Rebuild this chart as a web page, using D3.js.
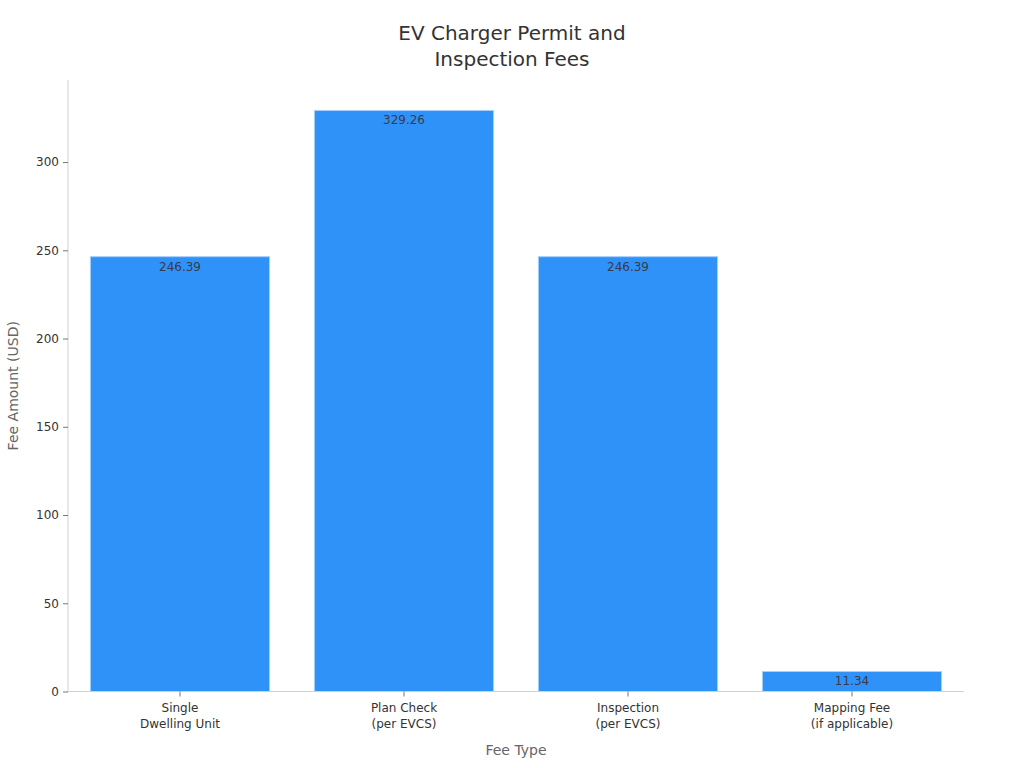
<!DOCTYPE html>
<html>
<head>
<meta charset="utf-8">
<script src="https://cdn.jsdelivr.net/npm/d3@7"></script>
<style>
  body { margin: 0; background: #fff; }
  text { font-family: "DejaVu Sans", sans-serif; }
</style>
</head>
<body>
<div class="canvas"></div>
<script>
const categories = [
  ["Single", "Dwelling Unit"],
  ["Plan Check", "(per EVCS)"],
  ["Inspection", "(per EVCS)"],
  ["Mapping Fee", "(if applicable)"]
];
const fees = [246.39, 329.26, 246.39, 11.34];
const yTicks = [0, 50, 100, 150, 200, 250, 300];

const margin = { top: 80, right: 60, bottom: 76.5, left: 68 };
const width = 1024, height = 768;
const graphWidth = width - margin.left - margin.right;
const graphHeight = height - margin.top - margin.bottom;

const svg = d3.select(".canvas")
  .append("svg")
  .attr("width", width)
  .attr("height", height);

const graph = svg.append("g")
  .attr("transform", `translate(${margin.left}, ${margin.top})`);

const keys = categories.map(c => c.join(" "));

// scales
const x = d3.scaleBand().domain(keys).range([0, graphWidth]).paddingInner(0.2).paddingOuter(0.1);
const y = d3.scaleLinear().domain([0, 346.5]).range([graphHeight, 0]);

// bars
graph.selectAll("rect.bar")
  .data(fees)
  .enter()
  .append("rect")
  .attr("class", "bar")
  .attr("x", (d, i) => x(keys[i]))
  .attr("y", d => y(d))
  .attr("width", x.bandwidth())
  .attr("height", d => graphHeight - y(d))
  .attr("fill", "#2f92f8")
  .attr("stroke", "#a9d0fb")
  .attr("stroke-width", 1);

// value labels
graph.selectAll("text.val")
  .data(fees)
  .enter()
  .append("text")
  .attr("class", "val")
  .attr("x", (d, i) => x(keys[i]) + x.bandwidth() / 2)
  .attr("y", d => y(d) + 14)
  .attr("text-anchor", "middle")
  .attr("font-size", 12)
  .attr("fill", "#3a3a4a")
  .text(d => d.toFixed(2));

// axes
const xAxis = d3.axisBottom(x).tickSize(5).tickFormat("");
const yAxis = d3.axisLeft(y).tickValues(yTicks).tickSize(5).tickPadding(4);

const xAxisGroup = graph.append("g")
  .attr("transform", `translate(0, ${graphHeight})`)
  .call(xAxis);
const yAxisGroup = graph.append("g").call(yAxis);

[xAxisGroup, yAxisGroup].forEach(g => {
  g.select(".domain").attr("stroke", "#d0d0d0").attr("stroke-width", 1);
  g.selectAll(".tick line").attr("stroke", "#777");
  g.selectAll(".tick text").attr("font-size", 12).attr("fill", "#333")
    .attr("font-family", "DejaVu Sans, sans-serif");
});
yAxisGroup.select(".domain").attr("d", `M0,${graphHeight}V0`);
xAxisGroup.select(".domain").attr("d", `M0,0H${graphWidth}`);

// multi-line x labels
xAxisGroup.selectAll(".tick").each(function(d, i) {
  const t = d3.select(this).append("text")
    .attr("y", 20)
    .attr("text-anchor", "middle")
    .attr("font-size", 12)
    .attr("fill", "#333");
  categories[i].forEach((line, j) => {
    t.append("tspan").attr("x", 0).attr("dy", j === 0 ? 0 : 16).text(line);
  });
});

// axis titles
svg.append("text")
  .attr("x", margin.left + graphWidth / 2)
  .attr("y", 755)
  .attr("text-anchor", "middle")
  .attr("font-size", 14)
  .attr("fill", "#666")
  .text("Fee Type");

svg.append("text")
  .attr("transform", `translate(18, ${margin.top + graphHeight / 2}) rotate(-90)`)
  .attr("text-anchor", "middle")
  .attr("font-size", 14)
  .attr("fill", "#666")
  .text("Fee Amount (USD)");

// title
const title = svg.append("text")
  .attr("x", width / 2)
  .attr("text-anchor", "middle")
  .attr("font-size", 20)
  .attr("fill", "#333");
title.append("tspan").attr("x", width / 2).attr("y", 40).text("EV Charger Permit and");
title.append("tspan").attr("x", width / 2).attr("y", 66).text("Inspection Fees");
</script>
</body>
</html>
